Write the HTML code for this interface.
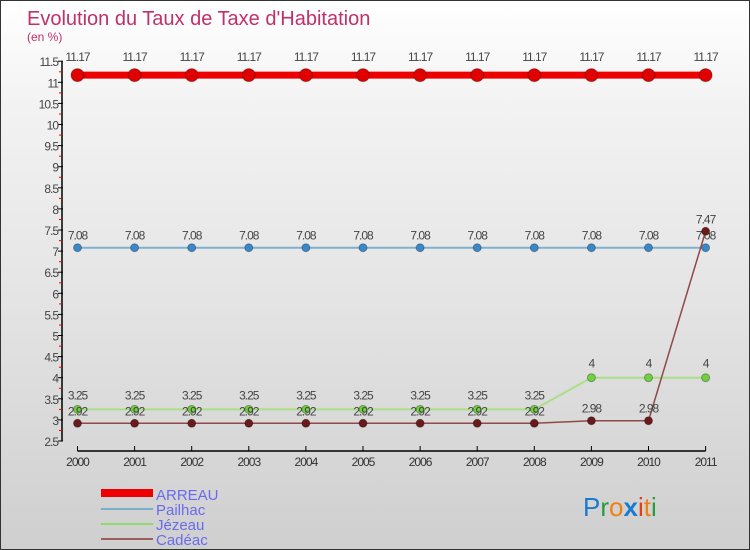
<!DOCTYPE html>
<html><head><meta charset="utf-8"><style>
body{margin:0}
#c{position:relative;width:748px;height:548px;border:1px solid #333;background:linear-gradient(#fff,#f2f2f2 20%,#e6e6e6 50%,#cfcfcf);font-family:"Liberation Sans",sans-serif;overflow:hidden}
svg{position:absolute;left:0;top:0}
</style></head><body>
<div id="c">
<svg id="s" width="748" height="548">
<text x="26" y="24" font-size="20" fill="#c0306a">Evolution du Taux de Taxe d'Habitation</text>
<text x="26" y="40" font-size="12" fill="#c0306a">(en %)</text>
<g id="g"></g>
<g>
<rect x="100" y="488" width="52" height="8" fill="#e00"/>
<text x="155" y="499" font-size="15" fill="#6a6af0">ARREAU</text>
<rect x="100" y="507" width="52" height="2" fill="#7aaccc"/>
<text x="155" y="514" font-size="15" fill="#6a6af0">Pailhac</text>
<rect x="100" y="522" width="52" height="2" fill="#90d870"/>
<text x="155" y="529" font-size="15" fill="#6a6af0">Jézeau</text>
<rect x="100" y="537" width="52" height="2" fill="#9a6060"/>
<text x="155" y="544" font-size="15" fill="#6a6af0">Cadéac</text>
</g>
<text x="582" y="515" font-size="26"><tspan fill="#1a7ad0">P</tspan><tspan fill="#2a9a40">r</tspan><tspan fill="#f08010">o</tspan><tspan fill="#1a7ad0" font-weight="bold">x</tspan><tspan fill="#e04010">i</tspan><tspan fill="#f08010">t</tspan><tspan fill="#2a9a40">i</tspan></text>
</svg>
</div>
<script>
const years=[2000,2001,2002,2003,2004,2005,2006,2007,2008,2009,2010,2011];
const arreau=[11.17,11.17,11.17,11.17,11.17,11.17,11.17,11.17,11.17,11.17,11.17,11.17];
const pailhac=[7.08,7.08,7.08,7.08,7.08,7.08,7.08,7.08,7.08,7.08,7.08,7.08];
const jezeau=[3.25,3.25,3.25,3.25,3.25,3.25,3.25,3.25,3.25,4,4,4];
const cadeac=[2.92,2.92,2.92,2.92,2.92,2.92,2.92,2.92,2.92,2.98,2.98,7.47];
const yTicks=[2.5,3,3.5,4,4.5,5,5.5,6,6.5,7,7.5,8,8.5,9,9.5,10,10.5,11,11.5];
const NS="http://www.w3.org/2000/svg";
const g=document.getElementById('g');
const X=i=>76.5+i*57.1;
const Y=v=>376.7-(v-4)*42.2;
function el(t,a){const e=document.createElementNS(NS,t);for(const k in a)e.setAttribute(k,a[k]);g.appendChild(e);return e;}
let ax=el('line',{x1:61,y1:Y(11.5),x2:61,y2:Y(2.5),stroke:'#000','stroke-width':1.5});


let xa=el('line',{x1:X(0),y1:450,x2:X(11),y2:450,stroke:'#000','stroke-width':1.5});


yTicks.forEach((t,i)=>{
  el('line',{x1:57,y1:Y(t),x2:62,y2:Y(t),stroke:'#000'});
  if(i<yTicks.length-1) el('line',{x1:58,y1:Y(t)-10.5,x2:61,y2:Y(t)-10.5,stroke:'#e00'});
  const tx=el('text',{x:57,y:Y(t)+5,'font-size':12,fill:'#444','text-anchor':'end','letter-spacing':'-1'});
  tx.textContent=String(t);
  
  
});
years.forEach((y,i)=>{
  el('line',{x1:X(i),y1:445,x2:X(i),y2:450,stroke:'#000'});
  const tx=el('text',{x:X(i),y:465,'font-size':12,fill:'#333','text-anchor':'middle','letter-spacing':'-1'});
  tx.textContent=y;
  
  
});
function series(name,vals,col,dot,w,r,labelDy){
  const p=el('polyline',{points:vals.map((v,i)=>X(i)+','+Y(v)).join(' '),fill:'none',stroke:col,'stroke-width':w});
  
  
  vals.forEach((v,i)=>{
    const c=el('circle',{cx:X(i),cy:Y(v),r:r,fill:dot,stroke:'rgba(0,0,0,0.3)'});
    
    
    const t=el('text',{x:X(i),y:Y(v)-labelDy,'font-size':12,fill:'#444','text-anchor':'middle','letter-spacing':'-1'});
    t.textContent=String(v);
    
    
  });
}
series('pailhac',pailhac,'#80b0d0','#3a88c8',2,4,8);
series('jezeau',jezeau,'#a8e088','#70d040',2,4,10);
series('cadeac',cadeac,'#904848','#6a1a1a',1.5,4,8);
series('arreau',arreau,'#ee0000','#e00000',7,6.5,14);
</script>
</body></html>
